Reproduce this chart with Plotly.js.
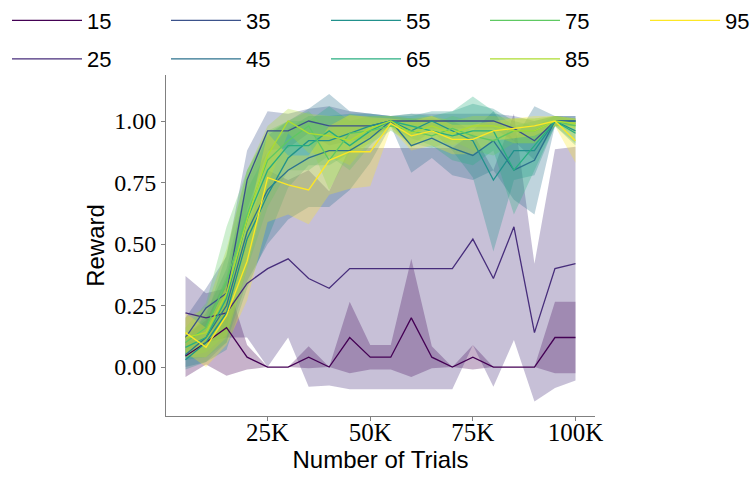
<!DOCTYPE html>
<html><head><meta charset="utf-8">
<script src="https://cdn.plot.ly/plotly-3.0.1.min.js"></script>
<style>html,body{margin:0;padding:0;background:#fff}#chart{width:753px;height:477px}</style>
</head><body><div id="chart"></div>
<script>
const trials = [5000,10000,15000,20000,25000,30000,35000,40000,45000,50000,55000,60000,65000,70000,75000,80000,85000,90000,95000,100000];
const seriesNames = ['15','25','35','45','55','65','75','85','95'];
const seriesColors = ['#440154','#472d7b','#3b528b','#2c728e','#21918c','#28ae80','#5ec962','#addc30','#fde725'];
const xTickVals = [25000,50000,75000,100000];
const xTickText = ['25K','50K','75K','100K'];
const yTickVals = [0,0.25,0.5,0.75,1.0];

const mean15 = [0.045,0.10,0.16,0.04,0,0,0.04,0,0.12,0.04,0.04,0.20,0.04,0,0.04,0,0,0,0.12,0.12];
const std15  = [0.085,0.09,0.195,0.05,0,0,0.045,0,0.145,0.05,0.05,0.24,0.045,0,0.05,0,0,0,0.145,0.145];
const mean25 = [0.22,0.20,0.22,0.34,0.40,0.44,0.36,0.32,0.40,0.40,0.40,0.40,0.40,0.40,0.52,0.36,0.57,0.14,0.40,0.42];
const std25  = [0.15,0.10,0.10,0.22,0.40,0.32,0.44,0.395,0.49,0.49,0.49,0.49,0.49,0.49,0.43,0.44,0.46,0.28,0.485,0.475];
const mean35 = [0.12,0.24,0.30,0.76,0.96,0.96,1.00,0.98,0.98,0.98,1.00,1.00,1.00,1.00,1.00,1.00,0.97,0.92,1.00,1.00];
const std35  = [0.08,0.08,0.15,0.12,0.08,0.07,0.05,0.08,0.06,0.05,0.02,0.03,0.03,0.03,0.03,0.03,0.05,0.08,0.02,0.02];
const mean45 = [0.05,0.12,0.25,0.55,0.72,0.80,0.85,0.88,0.88,0.93,1.00,0.90,0.93,0.89,0.86,0.92,0.80,0.84,1.00,1.00];
const std45  = [0.05,0.10,0.15,0.20,0.22,0.20,0.20,0.23,0.16,0.10,0.02,0.11,0.08,0.11,0.10,0.12,0.12,0.22,0.02,0.02];
const mean55 = [0.03,0.10,0.22,0.52,0.70,0.85,0.92,0.92,0.95,0.98,1.00,0.96,1.00,0.96,0.92,0.76,0.88,0.88,1.00,0.96];
const std55  = [0.04,0.08,0.15,0.20,0.18,0.12,0.10,0.10,0.08,0.05,0.02,0.06,0.04,0.08,0.15,0.29,0.12,0.10,0.02,0.05];
const mean65 = [0.08,0.12,0.28,0.60,0.80,0.90,0.90,0.96,0.90,0.96,1.00,0.98,0.96,0.94,0.96,0.96,0.80,0.90,1.00,0.95];
const std65  = [0.05,0.08,0.18,0.20,0.15,0.10,0.10,0.10,0.10,0.06,0.02,0.05,0.06,0.10,0.14,0.08,0.18,0.10,0.02,0.05];
const mean75 = [0.10,0.16,0.35,0.62,0.84,0.92,0.98,0.84,0.95,0.96,0.98,0.96,0.94,0.97,0.94,0.92,0.96,0.96,1.00,0.98];
const std75  = [0.06,0.10,0.22,0.18,0.12,0.08,0.06,0.12,0.08,0.05,0.02,0.05,0.05,0.05,0.06,0.06,0.05,0.05,0.02,0.03];
const mean85 = [0.12,0.14,0.30,0.60,0.86,1.00,0.95,0.94,0.92,0.97,1.00,0.95,0.98,0.95,0.98,0.98,0.96,0.96,1.00,0.99];
const std85  = [0.08,0.10,0.18,0.20,0.12,0.05,0.08,0.08,0.10,0.05,0.02,0.06,0.04,0.05,0.04,0.04,0.05,0.05,0.02,0.02];
const mean95 = [0.14,0.08,0.21,0.43,0.77,0.74,0.72,0.84,0.875,0.875,0.99,0.94,0.96,0.925,0.925,0.96,0.97,0.98,1.00,0.92];
const std95  = [0.08,0.08,0.12,0.16,0.18,0.12,0.14,0.14,0.15,0.14,0.02,0.06,0.06,0.06,0.06,0.04,0.04,0.04,0.02,0.09];

const means = [mean15,mean25,mean35,mean45,mean55,mean65,mean75,mean85,mean95];
const stds  = [std15,std25,std35,std45,std55,std65,std75,std85,std95];

function rgba(hex, a){
  const r=parseInt(hex.slice(1,3),16),g=parseInt(hex.slice(3,5),16),b=parseInt(hex.slice(5,7),16);
  return 'rgba('+r+','+g+','+b+','+a+')';
}
const traces = [];
seriesNames.forEach((n,i)=>{
  const m=means[i], s=stds[i];
  traces.push({x:trials, y:m.map((v,k)=>v-s[k]), type:'scatter', mode:'lines', line:{width:0,color:seriesColors[i]}, showlegend:false, hoverinfo:'skip'});
  traces.push({x:trials, y:m.map((v,k)=>v+s[k]), type:'scatter', mode:'lines', line:{width:0,color:seriesColors[i]}, fill:'tonexty', fillcolor:rgba(seriesColors[i],0.3), showlegend:false, hoverinfo:'skip'});
});

const legendFont = {family:'Liberation Sans, Arial, sans-serif', size:22, color:'#000'};
const layout = {
  width:753, height:477,
  margin:{l:166, r:158, t:75, b:61, autoexpand:false},
  paper_bgcolor:'#fff', plot_bgcolor:'#fff',
  showlegend:true,
  xaxis:{range:[250,104750], tickvals:xTickVals, ticktext:xTickText, showgrid:false, zeroline:false,
    showline:true, linecolor:'#808080', linewidth:1, ticks:'outside', ticklen:4, tickcolor:'#808080',
    ticklabelstandoff:-10,
    tickfont:{family:'Liberation Serif, Times New Roman, serif', size:25, color:'#000'},
    title:{text:'Number of Trials', font:{family:'Liberation Sans, Arial, sans-serif', size:24, color:'#000'}, standoff:6}},
  yaxis:{range:[-0.199,1.187], tickvals:yTickVals, tickformat:'.2f', showgrid:false, zeroline:false,
    showline:true, linecolor:'#808080', linewidth:1, ticks:'outside', ticklen:4, tickcolor:'#808080',
    tickfont:{family:'Liberation Serif, Times New Roman, serif', size:24, color:'#000'},
    title:{text:'Reward', font:{family:'Liberation Sans, Arial, sans-serif', size:24, color:'#000'}, standoff:2}}
};
// legend grid: 5 columns x 2 rows, column-major order
const colX = [7, 166, 326, 485, 645];
const rowY = [20.5, 59];
seriesNames.forEach((n,i)=>{
  const key = i===0 ? 'legend' : 'legend'+(i+1);
  const col = Math.floor(i/2), row = i%2;
  layout[key] = {orientation:'h', xref:'container', yref:'container', xanchor:'left', yanchor:'middle',
    x: colX[col]/753, y: 1 - rowY[row]/477, font:legendFont, bgcolor:'rgba(0,0,0,0)', itemwidth:70};
  traces.push({x:trials, y:means[i], type:'scatter', mode:'lines', name:n,
    line:{width:1.3,color:seriesColors[i]}, legend:key});
});
Plotly.newPlot('chart', traces, layout, {displayModeBar:false, staticPlot:true});
</script></body></html>
